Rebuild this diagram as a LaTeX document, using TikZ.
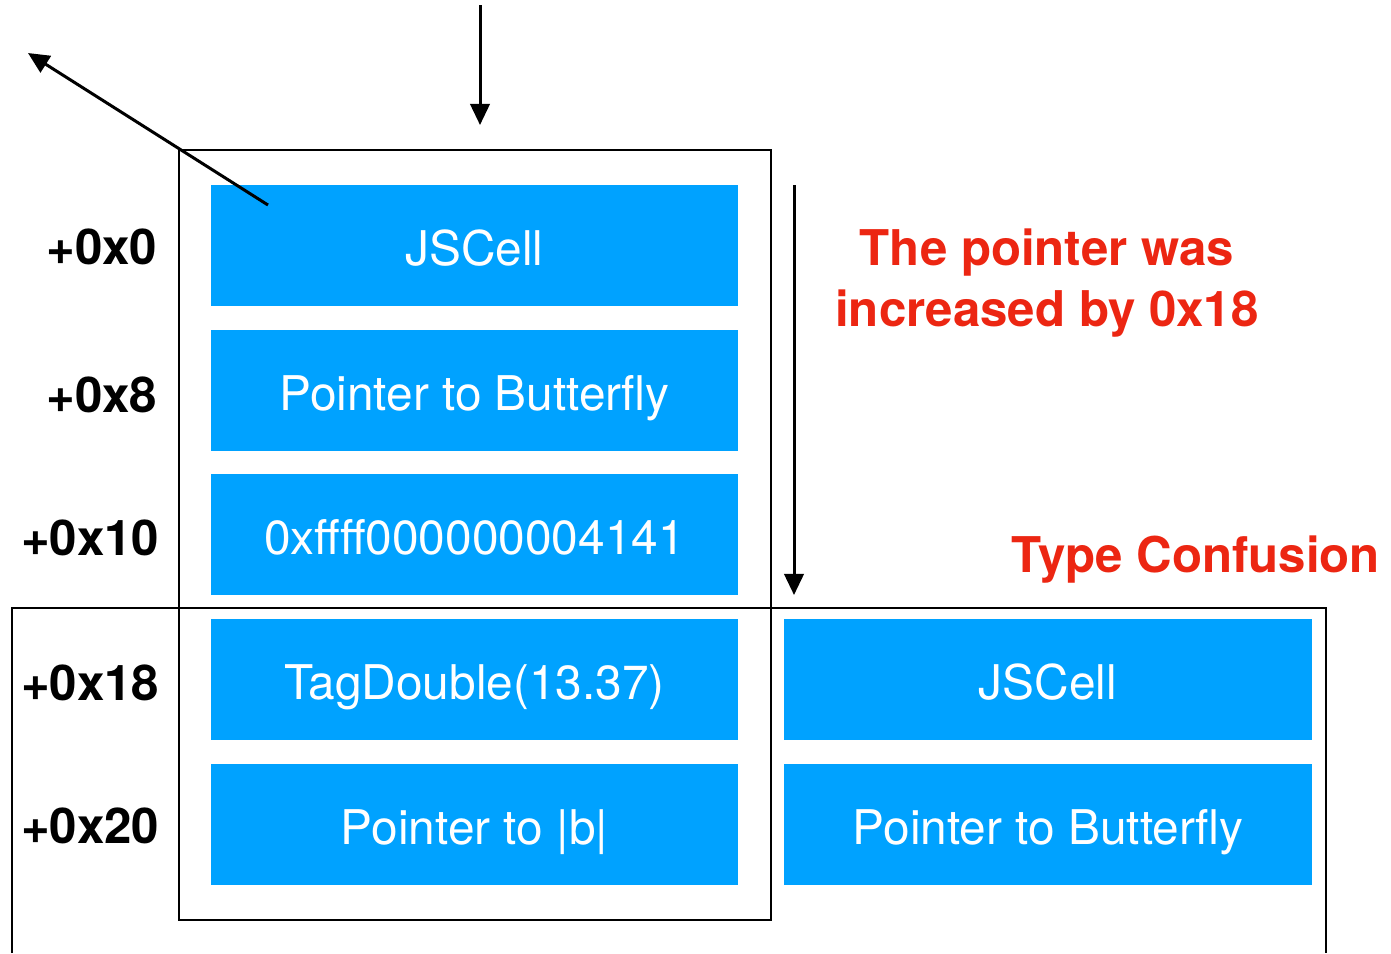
\documentclass[tikz,border=0pt]{standalone}
\usepackage{fontspec}
\setmainfont{TeX Gyre Heros}
\usetikzlibrary{arrows.meta}
\definecolor{cellblue}{RGB}{0,162,255}
\definecolor{notered}{RGB}{236,38,18}
\tikzset{
  slot/.style={fill=cellblue,text=white,minimum width=5.27cm,minimum height=1.21cm,inner sep=0pt,text height=11.2pt,text depth=0pt,font=\fontsize{13.6}{16}\selectfont},
  offset/.style={anchor=east,inner sep=0pt,font=\fontsize{14}{16}\selectfont\bfseries},
  note/.style={text=notered,align=center,inner sep=0pt,font=\fontsize{14}{17.4}\selectfont\bfseries},
  ptr/.style={line width=0.85pt,-{Triangle[length=6pt,width=5.5pt]}}
}
\begin{document}
\begin{tikzpicture}[x=0.01cm,y=-0.01cm]
\useasboundingbox (0,0) rectangle (1391,953);
\draw[line width=0.6pt] (179,150) rectangle (771,920);
\draw[line width=0.6pt] (12,953) -- (12,608) -- (1326,608) -- (1326,953);

\node[slot] (cellA) at (474.5,245.5) {JSCell};
\node[slot] (butterflyA) at (474.5,390.5) {Pointer to Butterfly};
\node[slot] (tagA) at (474.5,534.5) {0xffff000000004141};
\node[slot] (dbl) at (474.5,679.5) {TagDouble(13.37)};
\node[slot] (ptrb) at (474.5,824.5) {Pointer to |b|};
\node[slot] (cellB) at (1048,679.5) {JSCell};
\node[slot] (butterflyB) at (1048,824.5) {Pointer to Butterfly};

\node[offset] (o0) at (158,247) {+0x0};
\node[offset] (o8) at (158,395) {+0x8};
\node[offset] (o10) at (160,538) {+0x10};
\node[offset] (o18) at (160,683) {+0x18};
\node[offset] (o20) at (160,826) {+0x20};

\node[note] (moved) at (1047,283) {The pointer was\\increased by 0x18};
\node[note] (confusion) at (1196,560) {Type Confusion};

\coordinate (diagstart) at (268,205);
\coordinate (diagend) at (28,53);
\coordinate (topstart) at (480,5);
\coordinate (topend) at (480,125);
\coordinate (shiftstart) at (794,185);
\coordinate (shiftend) at (794,595);
\draw[ptr] (diagstart) -- (diagend);
\draw[ptr] (topstart) -- (topend);
\draw[ptr] (shiftstart) -- (shiftend);

\end{tikzpicture}
\end{document}
